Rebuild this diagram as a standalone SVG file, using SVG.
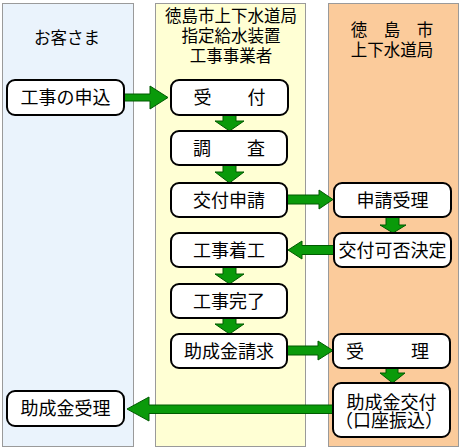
<svg xmlns="http://www.w3.org/2000/svg" width="461" height="448" viewBox="0 0 461 448">
<style>
.col{stroke:#9a9a9a;stroke-width:1}
.node rect{fill:#fff;stroke:#000;stroke-width:2}
text{font-family:"Noto Sans CJK JP","Noto Sans",sans-serif;fill:#000;text-anchor:middle}
.node text{font-size:18px}
.hd{font-size:16.5px}
.arr polygon{fill:#0a9a0a;stroke:#005a00;stroke-width:1;stroke-linejoin:miter}
</style>
<g id="lanes">
<rect class="col" x="2.5" y="3.5" width="131" height="443" fill="#EAF3FC"/>
<rect class="col" x="155.5" y="3.5" width="150" height="443" fill="#FFFFD4"/>
<rect class="col" x="328.5" y="3.5" width="130" height="443" fill="#FBCB9B"/>
<text class="hd" x="67" y="43.5">お客さま</text>
<text class="hd" x="231" y="22">徳島市上下水道局</text>
<text class="hd" x="231" y="42">指定給水装置</text>
<text class="hd" x="231" y="62">工事事業者</text>
<text class="hd" x="392" y="35.5">徳　島　市</text>
<text class="hd" x="392" y="56">上下水道局</text>
</g>
<g id="connectors" class="arr">
<polygon points="124,94 150,94 150,86 168,97.5 150,109 150,101 124,101"/>
<polygon points="223,115 236,115 236,121 244,121 229.5,131 215,121 223,121"/>
<polygon points="223,165 236,165 236,172 244,172 229.5,183 215,172 223,172"/>
<polygon points="223,267 236,267 236,274 244,274 229.5,284 215,274 223,274"/>
<polygon points="223,318 236,318 236,324 244,324 229.5,334 215,324 223,324"/>
<polygon points="386,217 399,217 399,225 406,225 393,233 380,225 386,225"/>
<polygon points="386,368 398,368 398,373 405,373 392.5,383 380,373 386,373"/>
<polygon points="287,195 319,195 319,190 333,199.5 319,209 319,204 287,204"/>
<polygon points="334,245.5 302,245.5 302,241 288,250 302,259 302,254.5 334,254.5"/>
<polygon points="287,346 318,346 318,341 333,350.5 318,360 318,355 287,355"/>
<polygon points="333,405 149,405 149,397 127,409 149,421 149,413.5 333,413.5"/>
</g>
<g id="n-moushikomi" class="node"><rect x="7" y="80" width="117" height="35" rx="8"/><text x="65.5" y="104">工事の申込</text></g>
<g id="n-uketsuke" class="node"><rect x="171" y="80" width="117" height="35" rx="8"/><text x="229.5" y="104">受　　付</text></g>
<g id="n-chousa" class="node"><rect x="171" y="131" width="116" height="34" rx="8"/><text x="229" y="154.5">調　　査</text></g>
<g id="n-koufushinsei" class="node"><rect x="171" y="183" width="116" height="34" rx="8"/><text x="229" y="206.5">交付申請</text></g>
<g id="n-chakkou" class="node"><rect x="171" y="233" width="116" height="34" rx="8"/><text x="229" y="256.5">工事着工</text></g>
<g id="n-kanryou" class="node"><rect x="171" y="284" width="116" height="34" rx="8"/><text x="229" y="307.5">工事完了</text></g>
<g id="n-seikyuu" class="node"><rect x="171" y="334" width="116" height="34" rx="8"/><text x="229" y="357.5">助成金請求</text></g>
<g id="n-shinseijuri" class="node"><rect x="334" y="183" width="117" height="34" rx="8"/><text x="392.5" y="206.5">申請受理</text></g>
<g id="n-kahi" class="node"><rect x="334" y="233" width="117" height="34" rx="8"/><text x="392.5" y="256.5">交付可否決定</text></g>
<g id="n-juri" class="node"><rect x="333" y="334" width="117" height="34" rx="8"/><text y="357.5"><tspan x="355">受</tspan><tspan x="420">理</tspan></text></g>
<g id="n-koufu" class="node"><rect x="333" y="383" width="117" height="54" rx="8"/><text x="391.5" y="408.5">助成金交付</text><text x="389" y="427">（口座振込）</text></g>
<g id="n-jukyu" class="node"><rect x="7" y="391" width="117" height="35" rx="8"/><text x="65.5" y="415">助成金受理</text></g>
</svg>
